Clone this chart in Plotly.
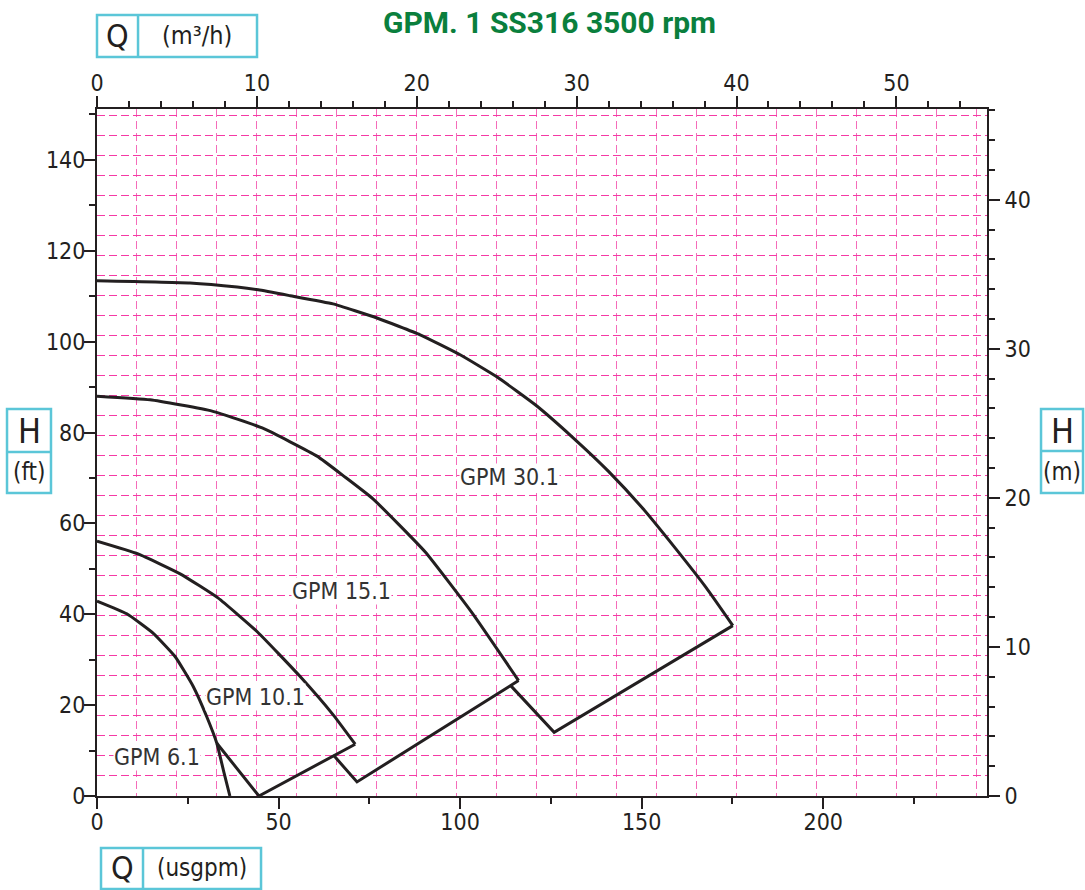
import plotly.graph_objects as go

# ---------------- data (Q in usgpm, H in ft) ----------------
USGPM_PER_M3H = 4.40287
M_PER_FT = 0.3048

Q_MAX_USGPM = 245.1
H_MAX_FT = 151.2
GRID_Q_M3H = 2.5      # vertical grid step (m3/h)
GRID_H_M = 1.342      # horizontal grid step (m)

q_61 = [0, 8.2, 15.5, 21.5, 26.5, 30.2, 33.0, 34.8, 36.6]
h_61 = [42.9, 40.1, 35.8, 30.7, 24.1, 17.5, 11.6, 5.7, 0]

q_101 = [0, 11.3, 22.9, 33.3, 44.2, 55.7, 65.1, 71.1]
h_101 = [56.1, 53.3, 48.9, 43.6, 36.1, 26.5, 17.8, 11.4]

q_151 = [0, 14.6, 31.7, 45.5, 60.6, 68.3, 76.0, 90.4, 103.3, 116.1]
h_151 = [88.0, 87.2, 84.7, 81.0, 74.8, 70.2, 65.4, 53.7, 40.3, 25.4]

q_301 = [0, 25.6, 38.6, 44.4, 53.2, 65.0, 77.1, 89.0, 100.0, 110.2, 120.7,
         130.9, 140.8, 150.4, 159.2, 167.8, 175.1]
h_301 = [113.4, 112.9, 112.0, 111.4, 110.1, 108.3, 105.2, 101.5, 97.1, 92.2,
         86.1, 79.0, 71.5, 63.2, 54.6, 45.8, 37.5]

# limit (working-range) lines
qa = [33.0, 44.6, 71.1]
ha = [11.6, 0, 11.4]
qb = [65.1, 71.6, 116.1]
hb = [9.0, 3.1, 25.4]
qc = [113.8, 125.9, 175.1]
hc = [24.4, 14.0, 37.5]

curve_names = ["GPM 6.1", "GPM 10.1", "GPM 15.1", "GPM 30.1"]
label_q = [16.5, 43.6, 67.2, 113.6]
label_h = [8.5, 21.7, 45.2, 70.2]

usgpm_ticks = [0, 50, 100, 150, 200]
usgpm_minor = [25, 75, 125, 175, 225]

title_text = "GPM. 1 SS316 3500 rpm"

# ---------------- styling ----------------
INK = "#231f20"
PINK_H = "#f53aa5"
PINK_V = "#f56cba"
CYAN = "#5bc6d8"
GREEN = "#0a7f3d"
NARROW = "DejaVu Sans Condensed, Liberation Sans Narrow, Liberation Sans, sans-serif"

fig = go.Figure()
for q, h in [(q_61, h_61), (q_101, h_101), (q_151, h_151), (q_301, h_301)]:
    fig.add_trace(go.Scatter(x=q, y=h, mode="lines",
                             line=dict(color=INK, width=3, shape="spline", smoothing=0.4),
                             hoverinfo="skip", showlegend=False))
for q, h in [(qa, ha), (qb, hb), (qc, hc)]:
    fig.add_trace(go.Scatter(x=q, y=h, mode="lines",
                             line=dict(color=INK, width=3),
                             hoverinfo="skip", showlegend=False))

# helper traces so that the secondary axes exist
fig.add_trace(go.Scatter(x=[], y=[], xaxis="x2", yaxis="y2", showlegend=False))
fig.add_trace(go.Scatter(x=[], y=[], xaxis="x3", yaxis="y3", showlegend=False))

tickfont = dict(family=NARROW, size=23, color=INK)
axcommon = dict(showline=True, linewidth=2, linecolor=INK, ticks="outside",
                tickwidth=2, tickcolor=INK, ticklen=11, showgrid=False,
                zeroline=False, tickfont=tickfont, fixedrange=True)
minorcommon = dict(ticks="outside", ticklen=6, tickwidth=2, tickcolor=INK, showgrid=False)

fig.update_layout(
    width=1085, height=890,
    margin=dict(l=97, r=98, t=109, b=94, autoexpand=False),
    plot_bgcolor="white", paper_bgcolor="white",
    showlegend=False,
    xaxis=dict(range=[0, Q_MAX_USGPM], tickmode="array", tickvals=usgpm_ticks,
               minor=dict(tickmode="array", tickvals=usgpm_minor, **minorcommon),
               ticklabelstandoff=-7, **axcommon),
    xaxis2=dict(overlaying="x", side="top", anchor="y",
                range=[0, Q_MAX_USGPM / USGPM_PER_M3H], tick0=0, dtick=10,
                minor=dict(dtick=2, **minorcommon), ticklabelstandoff=-4, **axcommon),
    xaxis3=dict(overlaying="x", range=[0, Q_MAX_USGPM / USGPM_PER_M3H],
                tick0=0, dtick=GRID_Q_M3H, showgrid=True, gridcolor=PINK_V,
                griddash="8px,4px", gridwidth=1, showticklabels=False,
                ticks="", showline=False, zeroline=False),
    yaxis=dict(range=[0, H_MAX_FT], tick0=0, dtick=20,
               minor=dict(dtick=10, **minorcommon), ticklabelstandoff=-6, **axcommon),
    yaxis2=dict(overlaying="y", side="right", anchor="x",
                range=[0, H_MAX_FT * M_PER_FT], tick0=0, dtick=10,
                minor=dict(dtick=2, **minorcommon), **axcommon),
    yaxis3=dict(overlaying="y", range=[0, H_MAX_FT * M_PER_FT],
                tick0=0, dtick=GRID_H_M, showgrid=True, gridcolor=PINK_H,
                griddash="8px,4px", gridwidth=1, showticklabels=False,
                ticks="", showline=False, zeroline=False),
)

# curve labels
for name, q, h in zip(curve_names, label_q, label_h):
    fig.add_annotation(x=q, y=h, xref="x", yref="y", text=name, showarrow=False,
                       xanchor="center", yanchor="middle",
                       font=dict(family=NARROW, size=23, color="#333333"),
                       bgcolor="white", borderpad=0)

# title
fig.add_annotation(x=0.5079, y=1.1266, xref="paper", yref="paper", text=title_text,
                   showarrow=False, xanchor="center", yanchor="middle",
                   font=dict(family="Roboto", size=30, color=GREEN, weight="bold"))

# unit boxes
def box(x0, x1, y0, y1):
    fig.add_shape(type="rect", xref="paper", yref="paper", x0=x0, x1=x1, y0=y0, y1=y1,
                  line=dict(color=CYAN, width=2.5), fillcolor="rgba(0,0,0,0)", layer="above")

def hline_div(x0, x1, y):
    fig.add_shape(type="line", xref="paper", yref="paper", x0=x0, x1=x1, y0=y, y1=y,
                  line=dict(color=CYAN, width=2.5))

def vline_div(x, y0, y1):
    fig.add_shape(type="line", xref="paper", yref="paper", x0=x, x1=x, y0=y0, y1=y1,
                  line=dict(color=CYAN, width=2.5))

def txt(x, y, s, size):
    fig.add_annotation(x=x, y=y, xref="paper", yref="paper", text=s, showarrow=False,
                       xanchor="center", yanchor="middle",
                       font=dict(family=NARROW, size=size, color=INK))

# top: Q (m3/h)
box(0.0, 0.1798, 1.0757, 1.1368)
vline_div(0.0461, 1.0757, 1.1368)
txt(0.0230, 1.1063, "Q", 32)
txt(0.1129, 1.1063, "(m³/h)", 25)

# bottom: Q (usgpm)
box(0.0045, 0.1843, -0.1354, -0.0757)
vline_div(0.0517, -0.1354, -0.0757)
txt(0.0281, -0.1055, "Q", 32)
txt(0.1180, -0.1055, "(usgpm)", 24)

# left: H (ft)
box(-0.1011, -0.0517, 0.4410, 0.5633)
hline_div(-0.1011, -0.0517, 0.5007)
txt(-0.0764, 0.5320, "H", 34)
txt(-0.0764, 0.4709, "(ft)", 24)

# right: H (m)
box(1.0607, 1.1079, 0.4410, 0.5633)
hline_div(1.0607, 1.1079, 0.5022)
txt(1.0843, 0.5320, "H", 34)
txt(1.0843, 0.4709, "(m)", 24)

# remove the default page margin so the figure fills the window exactly
fig.write_html("out.html", config={"displayModeBar": False},
               post_script="document.body.style.margin='0px';document.body.style.overflow='hidden';")
